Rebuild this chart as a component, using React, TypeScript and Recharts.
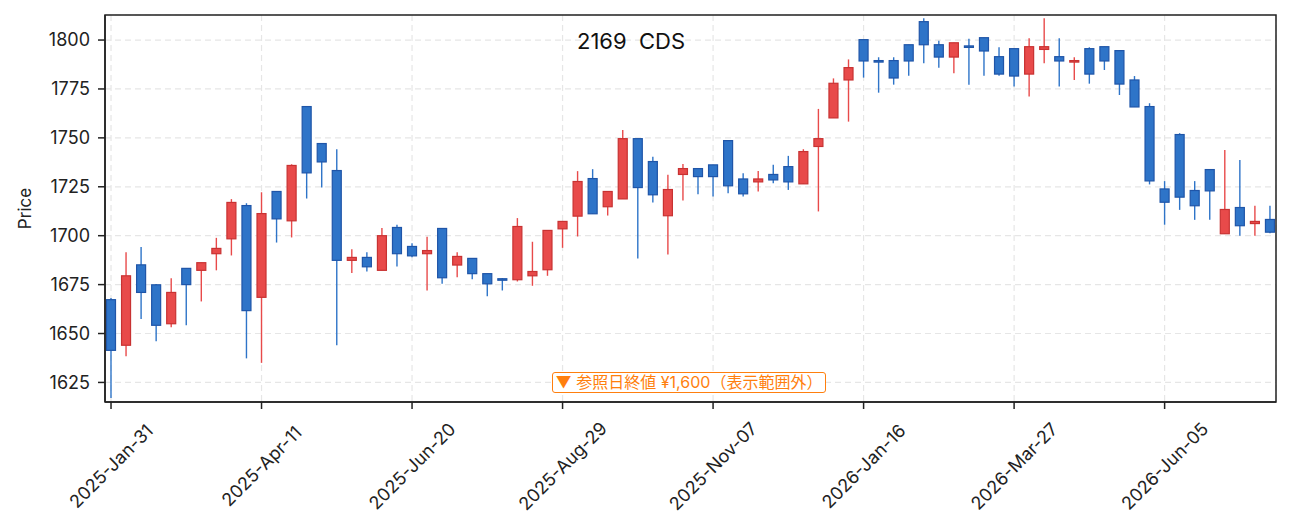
import { ComposedChart, Bar, XAxis, YAxis, CartesianGrid, ReferenceArea } from "recharts";

const tickIndex = [0, 10, 20, 30, 40, 50, 60, 70];
const tickLabels = [
  "2025-Jan-31",
  "2025-Apr-11",
  "2025-Jun-20",
  "2025-Aug-29",
  "2025-Nov-07",
  "2026-Jan-16",
  "2026-Mar-27",
  "2026-Jun-05",
];

const opens = [
  1667.3, 1644.0, 1685.1, 1674.9, 1655.0, 1683.3, 1682.3, 1690.8, 1698.4, 1715.4,
  1668.5, 1722.6, 1707.6, 1766.0, 1747.1, 1733.3, 1687.4, 1688.9, 1682.3, 1704.2,
  1694.5, 1690.8, 1703.7, 1685.0, 1688.4, 1680.6, 1678.0, 1677.5, 1679.5, 1682.6,
  1703.5, 1710.0, 1729.2, 1714.8, 1718.8, 1749.6, 1737.9, 1710.2, 1731.3, 1734.3,
  1736.2, 1748.6, 1729.0, 1727.5, 1731.3, 1735.3, 1726.5, 1745.6, 1760.2, 1779.6,
  1800.2, 1789.5, 1789.5, 1797.6, 1809.4, 1797.6, 1791.3, 1797.0, 1801.2, 1791.5,
  1795.6, 1782.6, 1795.2, 1791.5, 1788.8, 1795.6, 1796.6, 1794.6, 1779.6, 1766.0,
  1723.9, 1751.7, 1723.1, 1733.8, 1701.0, 1714.4, 1706.2, 1708.3,
];
const highs = [
  1668.1, 1691.6, 1694.2, 1675.3, 1678.3, 1683.3, 1686.2, 1698.9, 1718.7, 1716.6,
  1722.2, 1722.6, 1736.5, 1766.0, 1747.1, 1744.2, 1693.1, 1691.6, 1703.9, 1705.6,
  1696.2, 1699.4, 1703.7, 1691.6, 1688.4, 1680.6, 1678.3, 1709.0, 1696.9, 1702.7,
  1707.3, 1733.0, 1734.0, 1722.6, 1754.0, 1749.6, 1740.4, 1731.1, 1736.7, 1734.3,
  1736.2, 1748.6, 1731.9, 1733.1, 1736.2, 1740.8, 1744.2, 1764.8, 1780.4, 1790.1,
  1800.2, 1791.2, 1791.2, 1797.6, 1811.1, 1799.7, 1798.6, 1800.7, 1801.2, 1796.3,
  1795.6, 1800.9, 1811.1, 1800.9, 1791.2, 1796.3, 1796.6, 1794.6, 1781.6, 1767.7,
  1727.9, 1752.4, 1727.9, 1733.8, 1743.8, 1738.7, 1715.3, 1715.3,
];
const lows = [
  1617.1, 1638.4, 1657.4, 1646.0, 1653.2, 1654.2, 1666.4, 1682.3, 1689.9, 1637.3,
  1635.0, 1696.5, 1699.1, 1719.0, 1724.6, 1644.0, 1680.9, 1681.7, 1682.3, 1684.3,
  1689.0, 1672.0, 1675.4, 1678.7, 1677.8, 1669.0, 1672.0, 1676.6, 1674.4, 1679.5,
  1693.8, 1699.6, 1711.2, 1710.3, 1718.8, 1688.4, 1717.0, 1690.4, 1718.0, 1721.2,
  1720.0, 1721.7, 1720.0, 1722.6, 1726.8, 1723.4, 1726.5, 1712.4, 1760.2, 1758.3,
  1780.8, 1773.1, 1777.2, 1781.8, 1788.1, 1785.9, 1783.0, 1777.2, 1781.8, 1781.8,
  1776.2, 1771.1, 1788.1, 1776.2, 1779.6, 1777.7, 1784.7, 1771.9, 1765.8, 1726.2,
  1705.6, 1713.2, 1708.1, 1708.1, 1701.0, 1700.0, 1700.0, 1701.3,
];
const closes = [
  1641.4, 1679.5, 1671.0, 1654.2, 1671.0, 1675.0, 1686.2, 1693.5, 1717.0, 1661.7,
  1711.3, 1708.6, 1735.9, 1732.1, 1737.7, 1687.4, 1688.9, 1684.1, 1700.0, 1690.8,
  1689.7, 1692.4, 1678.5, 1689.4, 1680.6, 1675.4, 1677.5, 1704.7, 1681.7, 1702.7,
  1707.3, 1727.7, 1711.2, 1722.6, 1749.6, 1724.6, 1720.9, 1723.6, 1734.3, 1730.2,
  1730.2, 1725.5, 1721.4, 1729.0, 1728.5, 1727.5, 1743.0, 1749.6, 1777.9, 1785.9,
  1789.3, 1789.0, 1780.6, 1789.3, 1797.6, 1791.3, 1798.6, 1796.4, 1794.4, 1782.6,
  1781.6, 1796.6, 1796.6, 1789.3, 1789.5, 1782.6, 1789.3, 1777.5, 1765.8, 1728.0,
  1717.1, 1719.7, 1715.3, 1722.9, 1713.4, 1705.1, 1707.3, 1701.8,
];

const data = opens.map((o, i) => ({
  i,
  open: o,
  high: highs[i],
  low: lows[i],
  close: closes[i],
}));

const UP_FILL = "#e84a4a";
const UP_EDGE = "#c83232";
const DOWN_FILL = "#2e74c8";
const DOWN_EDGE = "#1f55a8";
const FONT = "Inter, 'Noto Sans CJK JP', sans-serif";

const Candle = (props: any) => {
  const { x, y, width, height, payload } = props;
  const { open, high, low, close } = payload;
  const up = close >= open;
  const pxPer = height / (high - low);
  const cx = x + width / 2;
  const top = y + (high - Math.max(open, close)) * pxPer;
  const bodyH = Math.max(Math.abs(close - open) * pxPer, 1.5);
  return (
    <g>
      <line x1={cx} x2={cx} y1={y} y2={y + height} stroke={up ? UP_FILL : DOWN_FILL} strokeWidth={1.4} />
      <rect
        x={x}
        y={top}
        width={width}
        height={bodyH}
        fill={up ? UP_FILL : DOWN_FILL}
        stroke={up ? UP_EDGE : DOWN_EDGE}
        strokeWidth={1.2}
      />
    </g>
  );
};

const DateTick = (props: any) => {
  const { x, y, payload } = props;
  const k = tickIndex.indexOf(payload.value);
  const cy = y + 55;
  return (
    <text
      x={x}
      y={cy}
      textAnchor="middle"
      dominantBaseline="central"
      transform={`rotate(-45 ${x} ${cy})`}
      fontSize={18}
      fontFamily={FONT}
      fill="#222"
    >
      {tickLabels[k]}
    </text>
  );
};

export default function App() {
  return (
    <div style={{ position: "relative", width: 1275, height: 510, fontFamily: FONT }}>
      <ComposedChart
        width={1275}
        height={510}
        data={data}
        margin={{ top: 7, right: 7, left: 37, bottom: 25 }}
      >
        <CartesianGrid stroke="#e6e6e6" strokeDasharray="6 4" strokeWidth={1.2} />
        <XAxis
          dataKey="i"
          type="number"
          domain={[-0.4, 77.4]}
          ticks={tickIndex}
          allowDataOverflow
          height={91}
          tick={<DateTick />}
          tickSize={7}
          axisLine={{ stroke: "#222", strokeWidth: 1.5 }}
          tickLine={{ stroke: "#222", strokeWidth: 1.5 }}
        />
        <YAxis
          type="number"
          domain={[1615, 1812.8]}
          ticks={[1625, 1650, 1675, 1700, 1725, 1750, 1775, 1800]}
          allowDataOverflow
          width={60}
          tickSize={7}
          tickMargin={8}
          tick={{ fontSize: 18, fill: "#222", fontFamily: FONT }}
          axisLine={{ stroke: "#222", strokeWidth: 1.5 }}
          tickLine={{ stroke: "#222", strokeWidth: 1.5 }}
          label={{ value: "Price", angle: -90, position: "center", dx: -50, fontSize: 17, fill: "#222", fontFamily: FONT }}
        />
        <ReferenceArea
          x1={-0.4}
          x2={77.4}
          y1={1615}
          y2={1812.8}
          fill="none"
          fillOpacity={0}
          stroke="#222"
          strokeWidth={1.5}
          ifOverflow="visible"
        />
        <Bar
          dataKey={(d: any) => [d.low, d.high]}
          barSize={9}
          shape={<Candle />}
          isAnimationActive={false}
        />
      </ComposedChart>
      <div
        style={{
          position: "absolute",
          left: 569,
          top: 21,
          fontSize: 22,
          color: "#111",
          whiteSpace: "pre",
          lineHeight: "24px",
        }}
      >
        2169  CDS
      </div>
      <div
        style={{
          position: "absolute",
          left: 544,
          top: 364,
          width: 272,
          height: 19,
          border: "1.5px solid #ff7f0e",
          borderRadius: 3,
          background: "#fff",
          color: "#ff7f0e",
          fontSize: 16,
          lineHeight: "19px",
          textAlign: "center",
          whiteSpace: "nowrap",
        }}
      >
        ▼ 参照日終値 ¥1,600（表示範囲外）
      </div>
    </div>
  );
}
